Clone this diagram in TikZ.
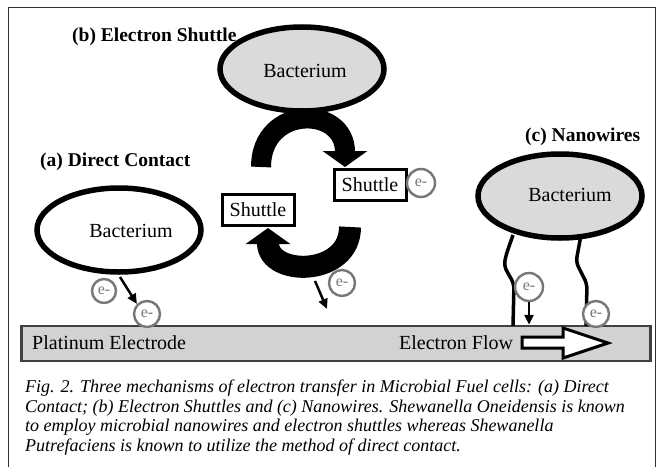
\documentclass[tikz,border=0pt]{standalone}
\usepackage{fontspec}
\setmainfont{Liberation Serif}
\usetikzlibrary{arrows.meta,shapes.geometric}
\definecolor{bgray}{HTML}{DADADA}
\definecolor{egray}{HTML}{D2D2D2}
\definecolor{cgray}{HTML}{777777}
\begin{document}
\begin{tikzpicture}[x=1pt,y=1pt,
  bact/.style={ellipse, draw=black, line width=5.5pt, minimum width=164pt, minimum height=84pt, inner sep=0pt},
  txt/.style={font=\fontsize{20}{24}\selectfont, inner sep=0pt},
  heading/.style={font=\bfseries\fontsize{19.5}{22}\selectfont, anchor=west, inner sep=0pt},
  shuttlebox/.style={draw, line width=3pt, minimum width=72pt, minimum height=31pt, inner sep=0pt, fill=white, font=\fontsize{20}{22}\selectfont},
  elec/.style={circle, draw=cgray, line width=2.4pt, fill=white, minimum size=26pt, inner sep=0pt, font=\fontsize{16}{16}\selectfont, text=cgray},
  thinarrow/.style={-{Triangle[width=9pt,length=10pt]}, line width=2.5pt},
  curvearrow/.style={-{Triangle[width=44pt,length=16pt]}, line width=#1},
  wire/.style={line width=3.5pt, rounded corners=5pt},
  caption/.style={anchor=base west, inner sep=0pt, font=\itshape\fontsize{18}{20}\selectfont, text=black}
]
\useasboundingbox (0,0) rectangle (660,467);
\fill[white] (0,0) rectangle (660,467);
% frame
\draw[line width=1pt, black!80] (8,0) -- (8,459) -- (655,459) -- (655,0);

% electrode
\node[draw=black!75, line width=2.5pt, fill=egray, minimum width=629pt, minimum height=35pt, inner sep=0pt] (electrode) at (336,123.5) {};
\node[txt, anchor=west] (pt) at (32,124) {Platinum Electrode};
\node[txt, anchor=west] (flow) at (399,124) {Electron Flow};
\draw[line width=3pt, fill=white] (522,130) -- (563,130) -- (563,139) -- (608,124) -- (563,109) -- (563,119) -- (522,119) -- cycle;

% thin arrow below shuttle cycle (behind arc)
\coordinate (sa1) at (315,186);
\coordinate (sa2) at (327,158);
\draw[thinarrow] (sa1) -- (sa2);

% curved arrows of electron shuttle
\coordinate (ta1) at (261,300);
\coordinate (ta2) at (345,300);
\draw[curvearrow=20pt] (ta1) .. controls (261,362) and (345,362) .. (ta2);
\coordinate (ba1) at (350,240);
\coordinate (ba2) at (268,239);
\draw[curvearrow=22pt] (ba1) .. controls (350,190) and (268,190) .. (ba2);

% nanowires
\draw[wire] (513,232) -- (506,212) -- (504,201) -- (514,183) -- (513,141);
\draw[wire] (581,232) -- (576,205) -- (587,183) -- (586,141);

% bacteria
\node[bact, fill=bgray] (bactB) at (302,398) {};
\node[txt] (bactBt) at (305,396) {Bacterium};
\node[bact, fill=white] (bactA) at (119,237) {};
\node[txt] (bactAt) at (131,236) {Bacterium};
\node[bact, fill=bgray] (bactC) at (560,271) {};
\node[txt] (bactCt) at (570,272) {Bacterium};

% shuttles
\node[shuttlebox] (sR) at (370,282) {Shuttle};
\node[shuttlebox] (sL) at (258,257) {Shuttle};

% electrons
\node[elec, minimum size=28pt] (eR) at (421,284) {e-};
\node[elec] (eB) at (342,184) {e-};
\node[elec, minimum size=24pt] (eA1) at (104,176) {e-};
\node[elec] (eA2) at (147,153) {e-};
\node[elec, minimum size=28pt] (eC1) at (529,180) {e-};
\node[elec] (eC2) at (596,153) {e-};

% electron arrows
\coordinate (da1) at (120,190);
\draw[thinarrow] (da1) -- (eA2.north west);
\draw[thinarrow] (eC1.south) -- (eC1.south |- electrode.north);

% headings
\node[heading] (hb) at (72,430) {(b) Electron Shuttle};
\node[heading] (ha) at (40,305) {(a) Direct Contact};
\node[heading] (hc) at (525,330) {(c) Nanowires};

% caption
\node[caption] (c1) at (25,75) {Fig. 2. Three mechanisms of electron transfer in Microbial Fuel cells: (a) Direct};
\node[caption] (c2) at (25,55) {Contact; (b) Electron Shuttles and (c) Nanowires. Shewanella Oneidensis is known};
\node[caption] (c3) at (25,36) {to employ microbial nanowires and electron shuttles whereas Shewanella};
\node[caption] (c4) at (25,16) {Putrefaciens is known to utilize the method of direct contact.};
\end{tikzpicture}
\end{document}
